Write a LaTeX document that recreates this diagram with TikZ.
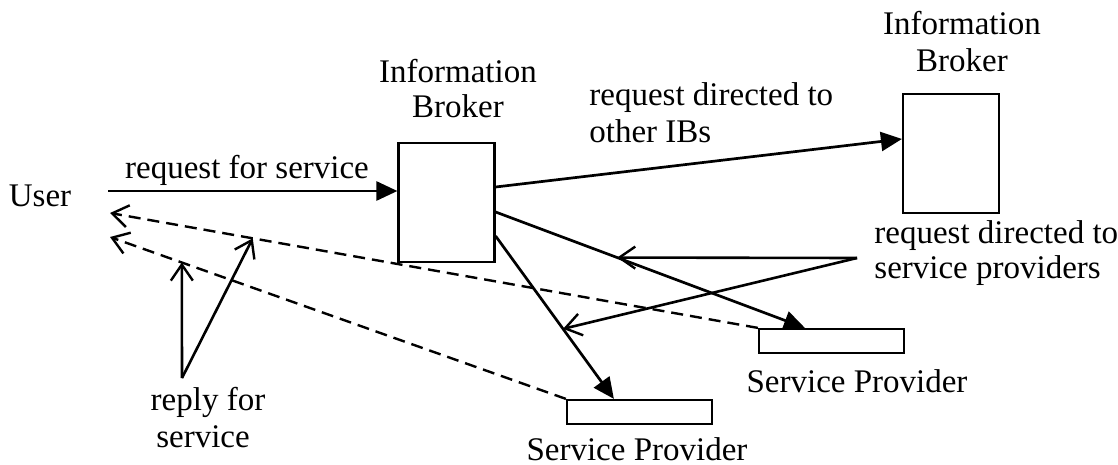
\documentclass[tikz,border=0pt]{standalone}
\usepackage{fontspec}
\setmainfont{Liberation Serif}
\usetikzlibrary{arrows.meta,calc}
\begin{document}
\begin{tikzpicture}[x=0.5pt,y=-0.5pt,
  box/.style={draw,line width=1.1pt,inner sep=0pt,fill=white},
  ibbox/.style={box,minimum width=48pt,minimum height=59.5pt},
  spbox/.style={box,minimum width=72.5pt,minimum height=12pt},
  lbl/.style={inner sep=0pt,anchor=base,font=\fontsize{16.5}{18}\selectfont},
  lbll/.style={lbl,anchor=base west},
  req/.style={line width=1.35pt,-{Triangle[length=10.5pt,width=9.5pt]}},
  reqopen/.style={line width=1.3pt,-{Straight Barb[length=8pt,width=11pt,line width=1.2pt]}},
  reply/.style={line width=1.2pt,dash pattern=on 6pt off 3.5pt,-{Straight Barb[length=8pt,width=11pt,line width=1.2pt]}}
]
\useasboundingbox (0,0) rectangle (1118,465);

% boxes
\node[ibbox] (ib1) at (446.5,202.5) {};
\node[ibbox] (ib2) at (951,153.5) {};
\node[spbox] (sp1) at (831.5,341) {};
\node[spbox] (sp2) at (639.5,412) {};

% labels
\node[lbl] (user) at (40,206) {User};
\node[lbl] (ib1a) at (458,83) {Information};
\node[lbl] (ib1b) at (458,118) {Broker};
\node[lbl] (ib2a) at (962,35) {Information};
\node[lbl] (ib2b) at (962,72) {Broker};
\node[lbl] (lrfs) at (247,178) {request for service};
\node[lbll] (lrd1) at (589,105) {request directed to};
\node[lbll] (lrd2) at (589,142) {other IBs};
\node[lbll] (lsp1) at (874,243) {request directed to};
\node[lbll] (lsp2) at (874,278) {service providers};
\node[lbl] (sp1l) at (857,392) {Service Provider};
\node[lbl] (sp2l) at (637,460) {Service Provider};
\node[lbl] (rep1) at (208,410) {reply for};
\node[lbl] (rep2) at (203,447) {service};

% free ends
\coordinate (uo) at (108,191);
\coordinate (u1) at (110,213);
\coordinate (u2) at (110,237);
\coordinate (rp) at (182,378);
\coordinate (rs) at (857,258);

% endpoints on boxes
\coordinate (ib1o) at ($(ib1.east)+(0,-15.5)$);
\coordinate (ib2i) at ($(ib2.west)+(0,-14.5)$);
\coordinate (ib1s1) at ($(ib1.east)+(0,9.5)$);
\coordinate (sp1i) at ($(sp1.north west)+(47,0)$);
\coordinate (ib1s2) at ($(ib1.east)+(0,33.5)$);
\coordinate (sp2i) at ($(sp2.north west)+(48,0)$);

% request arrows
\draw[req] (uo) -- (uo -| ib1.west);
\draw[req] (ib1o) -- (ib2i);
\draw[req] (ib1s1) -- (sp1i);
\draw[req] (ib1s2) -- (sp2i);

% replies (dashed)
\draw[reply] (sp1.north west) -- (u1);
\draw[reply] (sp2.north west) -- (u2);

% reply for service pointers
\draw[reqopen] (rp) -- ($(u2)!0.1575!(sp2.north west)$);
\draw[reqopen] (rp) -- ($(u1)!0.2203!(sp1.north west)$);

% request directed to service providers pointers
\draw[reqopen] (rs) -- ($(ib1s1)!0.393!(sp1i)$);
\draw[reqopen] (rs) -- ($(ib1s2)!0.57!(sp2i)$);
\end{tikzpicture}
\end{document}
